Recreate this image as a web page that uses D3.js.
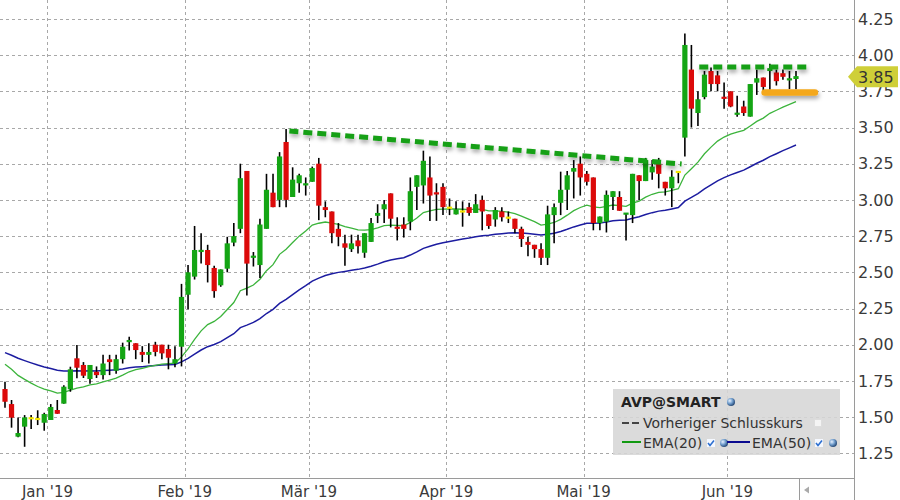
<!DOCTYPE html>
<html><head><meta charset="utf-8">
<script src="https://cdn.jsdelivr.net/npm/d3@7"></script>
<style>html,body{margin:0;padding:0;background:#fff;}svg{display:block;font-family:"DejaVu Sans",Verdana,sans-serif;}</style>
</head><body>
<svg id="c" width="900" height="500"></svg>
<script>
// ---- data ----
const opens  = [1.694,1.590,1.365,1.434,1.492,1.487,1.461,1.48,1.549,1.593,1.692,1.906,1.86,1.763,1.813,1.79,1.899,1.82,1.90,2.02,2.01,1.95,1.93,2.0,2.0,1.97,1.87,1.986,2.345,2.47,2.64,2.654,2.53,2.41,2.525,2.705,2.80,3.20,2.60,2.55,2.80,3.05,3.0,3.40,3.02,3.115,3.10,3.125,3.25,2.95,2.92,2.80,2.70,2.66,2.72,2.635,2.71,2.89,2.935,3.045,2.815,2.83,2.85,3.09,3.10,3.155,3.05,3.09,2.946,2.90,2.92,2.95,2.91,3.0,2.90,2.865,2.92,2.877,2.87,2.80,2.71,2.69,2.66,2.60,2.895,2.98,3.07,3.195,3.25,3.18,3.155,2.84,2.85,3.02,3.02,2.90,2.895,3.17,3.13,3.19,3.25,3.125,3.08,3.193,3.43,3.90,3.60,3.71,3.89,3.86,3.71,3.75,3.59,3.645,3.575,3.81,3.845,3.89,3.88,3.875,3.825,3.835];
const highs  = [1.744,1.618,1.498,1.514,1.514,1.547,1.53,1.59,1.618,1.72,1.848,1.998,1.88,1.86,1.85,1.93,1.93,1.93,2.014,2.055,2.01,1.99,2.01,2.02,2.0,2.0,1.99,2.42,2.55,2.82,2.77,2.69,2.545,2.52,2.745,2.84,3.25,3.20,2.64,2.87,3.18,3.18,3.33,3.49,3.225,3.18,3.155,3.23,3.29,2.99,2.92,2.84,2.76,2.76,2.76,2.77,2.875,2.97,3.0,3.045,2.88,2.88,3.155,3.17,3.34,3.30,3.115,3.115,3.01,2.99,2.99,2.98,3.04,3.03,2.90,2.95,2.95,2.92,2.87,2.815,2.745,2.69,2.70,2.96,2.975,3.195,3.20,3.275,3.30,3.20,3.155,2.885,3.065,3.06,3.06,2.91,3.18,3.17,3.29,3.275,3.29,3.125,3.205,3.193,4.15,4.07,3.75,3.89,3.915,3.89,3.81,3.75,3.72,3.685,3.80,3.90,3.845,3.94,3.90,3.90,3.89,3.89];
const lows   = [1.565,1.427,1.36,1.295,1.418,1.445,1.406,1.48,1.523,1.593,1.675,1.768,1.77,1.73,1.77,1.76,1.79,1.80,1.87,1.96,1.90,1.88,1.87,1.92,1.90,1.83,1.845,1.85,2.245,2.45,2.56,2.43,2.325,2.40,2.50,2.68,2.77,2.34,2.54,2.46,2.80,2.95,2.95,2.95,3.02,3.05,3.03,3.125,2.86,2.88,2.70,2.68,2.545,2.64,2.63,2.60,2.71,2.84,2.84,2.81,2.72,2.74,2.79,2.93,2.975,2.855,2.855,2.895,2.895,2.90,2.815,2.89,2.91,2.79,2.80,2.815,2.85,2.84,2.77,2.675,2.61,2.60,2.55,2.55,2.70,2.895,2.93,3.01,3.03,3.10,2.79,2.79,2.775,2.93,2.925,2.72,2.84,3.00,3.13,3.14,3.08,3.03,2.95,3.115,3.30,3.50,3.51,3.695,3.75,3.75,3.63,3.64,3.575,3.58,3.575,3.725,3.73,3.76,3.79,3.83,3.765,3.765];
const closes = [1.606,1.496,1.39,1.498,1.492,1.487,1.521,1.57,1.523,1.71,1.83,1.841,1.786,1.86,1.79,1.87,1.88,1.90,1.986,2.03,1.963,1.93,1.95,1.95,1.94,1.91,1.90,2.33,2.50,2.654,2.655,2.55,2.37,2.52,2.70,2.75,3.15,2.56,2.615,2.83,3.07,2.95,3.30,3.0,3.14,3.17,3.115,3.22,2.96,2.93,2.77,2.745,2.67,2.70,2.68,2.77,2.84,2.91,2.97,2.87,2.80,2.80,3.06,3.17,3.27,3.03,3.04,2.95,2.946,2.935,2.92,2.91,2.97,2.92,2.82,2.93,2.88,2.877,2.80,2.73,2.69,2.66,2.60,2.90,2.95,3.07,3.17,3.22,3.155,3.125,2.84,2.885,3.035,3.06,2.925,2.91,3.18,3.13,3.275,3.23,3.18,3.08,3.16,3.193,4.07,3.63,3.695,3.865,3.80,3.80,3.70,3.645,3.60,3.60,3.80,3.84,3.78,3.91,3.82,3.85,3.84,3.855];
const ema20Start = 1.865;   // EMA(20) value at the first visible session
const ema50Start = 1.945;   // EMA(50) value at the first visible session
const monthLabels = ["Jan '19","Feb '19","Mär '19","Apr '19","Mai '19","Jun '19"];
const monthStartIndex = [7, 28, 47, 68, 89, 111];
const yTicks = [1.25,1.50,1.75,2.00,2.25,2.50,2.75,3.00,3.25,3.50,3.75,4.00,4.25];
const lastPrice = 3.85;
// drawn annotations (session index, price)
const trendDown = [[43.5, 3.476],[103.5, 3.248]];
const trendFlat = [[106.2, 3.918],[123.0, 3.918]];
const supportLine = [[116.2, 3.742],[123.9, 3.742]];

// ---- layout ----
const svg = d3.select("#c");
const plotRight = 854, axisY = 478;
const x = d3.scaleLinear().domain([0, closes.length - 1]).range([5, 796]);
const step = x(1) - x(0);
const y = d3.scaleLinear().domain([1.25, 4.25]).range([453.3, 18.9]);

const defs = svg.append("defs");
const f = defs.append("filter").attr("id","sh").attr("filterUnits","userSpaceOnUse")
  .attr("x",0).attr("y",0).attr("width",900).attr("height",500);
f.append("feDropShadow").attr("dx",1).attr("dy",3).attr("stdDeviation",2.2).attr("flood-color","#000").attr("flood-opacity",0.35);
const rg = defs.append("radialGradient").attr("id","sph").attr("cx","35%").attr("cy","35%").attr("r","65%");
rg.append("stop").attr("offset","0%").attr("stop-color","#e8f2ff");
rg.append("stop").attr("offset","55%").attr("stop-color","#6f9ccc");
rg.append("stop").attr("offset","100%").attr("stop-color","#2c4f7c");

// grid
svg.append("g").selectAll("line").data(yTicks).join("line")
  .attr("x1",0).attr("x2",plotRight).attr("y1",d=>Math.round(y(d))+0.5).attr("y2",d=>Math.round(y(d))+0.5)
  .attr("stroke","#a8a8a8").attr("stroke-dasharray","3,3");
svg.append("g").selectAll("line").data(monthStartIndex).join("line")
  .attr("x1",d=>Math.round(x(d)-step/2)+0.5).attr("x2",d=>Math.round(x(d)-step/2)+0.5)
  .attr("y1",0).attr("y2",axisY)
  .attr("stroke","#a8a8a8").attr("stroke-dasharray","3,3");

// EMAs
function ema(vals, start, n){ const a = 2/(n+1); const out=[start]; for(let i=1;i<vals.length;i++) out.push(out[i-1] + a*(vals[i]-out[i-1])); return out; }
const e20 = ema(closes, ema20Start, 20), e50 = ema(closes, ema50Start, 50);
const line = d3.line().x((d,i)=>x(i)).y(d=>y(d));
svg.append("path").datum(e50).attr("d",line).attr("fill","none").attr("stroke","#1c1ca0").attr("stroke-width",1.5);
svg.append("path").datum(e20).attr("d",line).attr("fill","none").attr("stroke","#3cb43c").attr("stroke-width",1.3);

// candles
const idx = d3.range(closes.length);
const color = i => closes[i] > opens[i] ? "#14a514" : (closes[i] < opens[i] ? "#dc0a0a" : "#f5e600");
const cg = svg.append("g");
cg.selectAll("line").data(idx).join("line")
  .attr("x1",i=>x(i)).attr("x2",i=>x(i)).attr("y1",i=>y(highs[i])).attr("y2",i=>y(lows[i]))
  .attr("stroke","#000").attr("stroke-width",1.6);
cg.selectAll("rect").data(idx).join("rect")
  .attr("x",i=>x(i)-2.6).attr("width",5.2)
  .attr("y",i=>{const t=y(Math.max(opens[i],closes[i])), b=y(Math.min(opens[i],closes[i])); return b-t<2.2 ? (t+b)/2-1.1 : t;})
  .attr("height",i=>Math.max(2.2, y(Math.min(opens[i],closes[i]))-y(Math.max(opens[i],closes[i]))))
  .attr("fill",color);

// annotations
const aline = d3.line().x(d=>x(d[0])).y(d=>y(d[1]));
svg.append("path").datum(trendDown).attr("d",aline).attr("stroke","#17a017").attr("stroke-width",5).attr("stroke-dasharray","9,5").attr("fill","none").attr("filter","url(#sh)");
svg.append("path").datum(trendFlat).attr("d",aline).attr("stroke","#17a017").attr("stroke-width",5).attr("stroke-dasharray","9,5").attr("fill","none").attr("filter","url(#sh)");
svg.append("path").datum(supportLine).attr("d",aline).attr("stroke","#f4a81c").attr("stroke-width",6.5).attr("stroke-linecap","round").attr("fill","none").attr("filter","url(#sh)");

// axes frame
svg.append("line").attr("x1",0).attr("x2",plotRight).attr("y1",axisY+0.5).attr("y2",axisY+0.5).attr("stroke","#9a9a9a");
svg.append("line").attr("x1",plotRight+0.5).attr("x2",plotRight+0.5).attr("y1",0).attr("y2",500).attr("stroke","#9a9a9a");
svg.append("line").attr("x1",799.5).attr("x2",799.5).attr("y1",axisY).attr("y2",500).attr("stroke","#9a9a9a");
svg.append("path").attr("d","M804,490 L809,486.5 L809,493.5 Z").attr("fill","#aaa");

// y axis labels
const yAxis = d3.axisRight(y).tickValues(yTicks).tickFormat(d3.format(".2f")).tickSize(0).tickPadding(4);
const ya = svg.append("g").attr("transform",`translate(${plotRight},0)`).call(yAxis);
ya.select(".domain").remove();
ya.selectAll("text").attr("font-size",16).attr("fill","#3a3a3a").attr("font-family","DejaVu Sans");

// last price tag
const ty = y(lastPrice);
svg.append("path").attr("d",`M848,${ty} L857,${ty-10.5} L898,${ty-10.5} L898,${ty+10.5} L857,${ty+10.5} Z`).attr("fill","#cfcf38");
svg.append("text").attr("x",858).attr("y",ty).attr("dy","0.36em").attr("font-size",16).attr("fill","#333").text(d3.format(".2f")(lastPrice));

// x labels
svg.append("g").selectAll("text").data(monthStartIndex).join("text")
  .attr("x",d=>x(d)-step/2).attr("y",497).attr("text-anchor","middle").attr("font-size",15).attr("fill","#3a3a3a")
  .text((d,i)=>monthLabels[i]);

// legend
const lg = svg.append("g");
lg.append("rect").attr("x",613).attr("y",389).attr("width",227).attr("height",66).attr("fill","#d6d6d6").attr("opacity",0.88);
lg.append("text").attr("x",621).attr("y",407).attr("font-size",14).attr("font-weight","bold").attr("fill","#222").text("AVP@SMART");
function sphere(cx,cy){ lg.append("circle").attr("cx",cx).attr("cy",cy).attr("r",4).attr("fill","url(#sph)"); }
function check(cx,cy){ lg.append("rect").attr("x",cx-4).attr("y",cy-4).attr("width",8).attr("height",8).attr("fill","#f4f8ff");
  lg.append("path").attr("d",`M${cx-3},${cy} L${cx-1},${cy+2.5} L${cx+3},${cy-2.5}`).attr("stroke","#2d6fd0").attr("stroke-width",1.6).attr("fill","none"); }
sphere(731,402);
lg.append("line").attr("x1",622).attr("x2",640).attr("y1",423).attr("y2",423).attr("stroke","#444").attr("stroke-width",2).attr("stroke-dasharray","7,3");
lg.append("text").attr("x",643).attr("y",428).attr("font-size",14).attr("fill","#333").text("Vorheriger Schlusskurs");
lg.append("rect").attr("x",814.5).attr("y",419.5).attr("width",7).attr("height",7).attr("fill","#f4f4f4").attr("stroke","#ddd");
lg.append("line").attr("x1",622).attr("x2",641).attr("y1",442).attr("y2",442).attr("stroke","#129a12").attr("stroke-width",2);
lg.append("text").attr("x",643).attr("y",448).attr("font-size",14).attr("fill","#333").text("EMA(20)");
check(711,443); sphere(724,443);
lg.append("line").attr("x1",727).attr("x2",750).attr("y1",442).attr("y2",442).attr("stroke","#0a0a90").attr("stroke-width",2);
lg.append("text").attr("x",752).attr("y",448).attr("font-size",14).attr("fill","#333").text("EMA(50)");
check(819,443); sphere(833,443);
</script>
</body></html>
